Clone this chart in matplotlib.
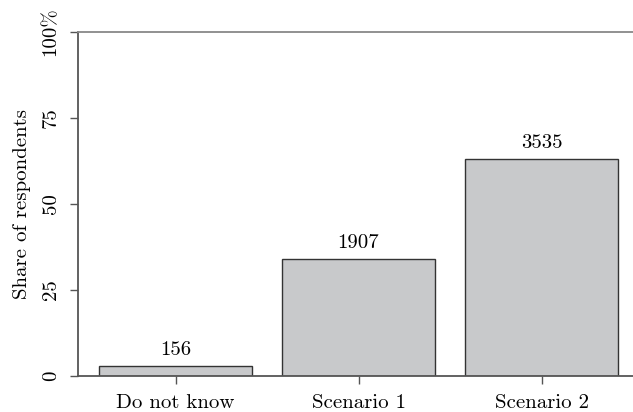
import numpy as np
import matplotlib
matplotlib.use("Agg")
import matplotlib.pyplot as plt

plt.rcParams['font.family'] = ['cmr10', 'DejaVu Serif']
plt.rcParams['axes.formatter.use_mathtext'] = True

categories = ['Do not know', 'Scenario 1', 'Scenario 2']
counts = [156, 1907, 3535]
y_ticks = [0, 25, 50, 75, 100]
y_tick_labels = ['0', '25', '50', '75', '100%']

shares = np.array(counts) / sum(counts) * 100
x = np.arange(len(categories))

fig = plt.figure(figsize=(6.33, 4.12), dpi=100)
ax = fig.add_axes([78 / 633, 36 / 412, 1 - 78 / 633, (376 - 32) / 412])

line_col = '#555555'
ax.bar(x, shares, width=0.836, color='#c8c9cb', edgecolor='#333333', linewidth=1.0, zorder=2)

for xi, s, c in zip(x, shares, counts):
    ax.annotate(str(c), (xi, s), xytext=(0, 5), textcoords='offset points',
                ha='center', va='bottom', fontsize=15)

ax.set_xlim(-0.533, 2.5)
ax.set_ylim(0, 100)
ax.set_xticks(x)
ax.set_xticklabels(categories, fontsize=15)
ax.set_yticks(y_ticks)
ax.set_yticklabels(y_tick_labels, fontsize=15, rotation=90, va='center')
ax.set_ylabel('Share of respondents', fontsize=15, labelpad=8)

for side in ['left', 'top', 'bottom']:
    ax.spines[side].set_color(line_col)
    ax.spines[side].set_linewidth(1.3)
ax.spines['right'].set_visible(False)
ax.spines['top'].set_color('#888888')
ax.tick_params(axis='both', length=6, width=1.0, color=line_col, pad=7)

fig.savefig('out.png', dpi=100)
